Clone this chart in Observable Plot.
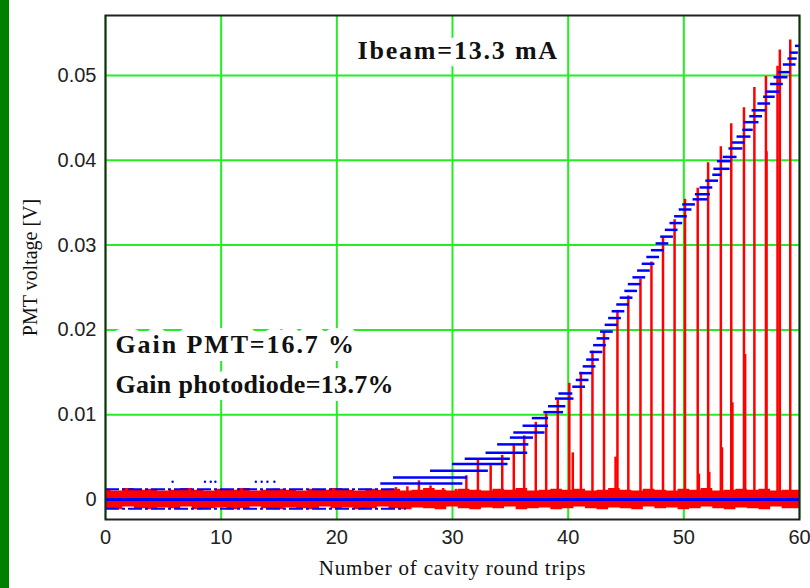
<!DOCTYPE html>
<html><head><meta charset="utf-8">
<script src="https://cdn.jsdelivr.net/npm/d3@7"></script>
<script src="https://cdn.jsdelivr.net/npm/@observablehq/plot@0.6"></script>
<style>
html,body{margin:0;padding:0;background:#fff;}
#wrap{position:relative;width:810px;height:588px;overflow:hidden;}
#strip{position:absolute;left:0;top:0;width:9px;height:588px;background:#008000;z-index:2;}
</style></head><body><div id="wrap"><div id="strip"></div></div>
<script>
// ---- tick labels ----
const xTicks = [0, 10, 20, 30, 40, 50, 60];
const yTicks = [0, 0.01, 0.02, 0.03, 0.04, 0.05];

// ---- red trace: spikes (round trip, peak voltage) ----
const spikeX = [25.1, 26.1, 27.1, 28.1, 29.2, 30.3, 31.2, 32.2, 33.3, 34.3, 35.3, 36.2, 37.2, 38.1, 39.1, 40.1, 40.4,
  41.1, 42.1, 43.1, 44.1, 44.26, 45.2, 46.25, 47.2, 48.2, 49.2, 50.1, 51.2, 51.3, 52.1, 52.2, 53.2, 53.3, 54.1, 54.2,
  55.2, 55.3, 56.1, 57.1, 57.15, 58.1, 58.3, 59.2];
const spikeV = [0.0014, 0.0015, 0.0022, 0.0016, 0.0013, 0.0012, 0.0028, 0.0046, 0.0040, 0.0052, 0.0064, 0.0075, 0.0091, 0.0101, 0.0117, 0.0137, 0.0055,
  0.0150, 0.0175, 0.0197, 0.0050, 0.0223, 0.0240, 0.0260, 0.0280, 0.0310, 0.0330, 0.0354, 0.0367, 0.0030, 0.0397, 0.0032, 0.0416, 0.0061, 0.0443, 0.0114,
  0.0462, 0.0171, 0.0486, 0.0499, 0.0410, 0.0511, 0.0530, 0.0542];

// ---- red trace: noise band envelope (per round trip) ----
const noiseX = d3.range(0, 61);
const noiseTop = [
  0.0012,0.0010,0.0013,0.0011,0.0012,0.0010,0.0011,0.0013,0.0011,0.0010,
  0.0012,0.0011,0.0013,0.0010,0.0011,0.0012,0.0011,0.0010,0.0012,0.0011,
  0.0013,0.0011,0.0010,0.0012,0.0011,0.0012,0.0010,0.0011,0.0013,0.0011,
  0.0010,0.0012,0.0011,0.0010,0.0012,0.0011,0.0013,0.0010,0.0011,0.0012,
  0.0011,0.0012,0.0010,0.0011,0.0013,0.0011,0.0010,0.0012,0.0011,0.0010,
  0.0012,0.0011,0.0013,0.0010,0.0011,0.0012,0.0011,0.0012,0.0010,0.0011,
  0.0011];
const noiseBottom = [
  -0.0011,-0.0012,-0.0009,-0.0011,-0.0012,-0.0010,-0.0011,-0.0009,-0.0012,-0.0011,
  -0.0010,-0.0012,-0.0011,-0.0009,-0.0011,-0.0012,-0.0010,-0.0011,-0.0012,-0.0009,
  -0.0011,-0.0010,-0.0012,-0.0011,-0.0009,-0.0011,-0.0012,-0.0010,-0.0011,-0.0012,
  -0.0009,-0.0011,-0.0012,-0.0010,-0.0011,-0.0009,-0.0012,-0.0011,-0.0010,-0.0012,
  -0.0011,-0.0009,-0.0011,-0.0012,-0.0010,-0.0011,-0.0012,-0.0009,-0.0011,-0.0010,
  -0.0012,-0.0011,-0.0009,-0.0011,-0.0012,-0.0010,-0.0011,-0.0012,-0.0009,-0.0011,
  -0.0011];

// ---- blue trace: staircase levels (start, end, level) ----
const stairStart = [23.8, 24.9, 28.1, 30.0, 31.1, 32.9, 33.9, 35.0, 35.3, 36.1, 36.9, 37.9, 38.3, 38.9, 39.2,
  40.4, 40.7, 41.0, 41.3, 41.6, 41.9, 42.2, 42.5, 42.8, 43.2, 43.5, 43.8, 44.2, 44.5, 44.9, 45.2, 45.6, 46.0, 46.4, 46.8, 47.2, 47.6, 48.0, 48.4, 48.8, 49.2, 49.6, 49.9,
  50.8, 51.0, 51.4, 51.9, 52.5, 52.6, 52.9, 53.4, 53.9, 54.2, 54.6, 55.1, 55.2, 55.7, 55.9, 56.4, 56.9, 57.1, 57.5, 57.8, 58.2, 58.6, 59.0, 59.2, 59.65];
const stairEnd = [30.9, 31.3, 33.1, 34.8, 35.0, 36.5, 36.6, 37.0, 38.0, 38.3, 38.3, 39.6, 39.8, 40.5, 40.4,
  41.5, 41.8, 42.1, 42.4, 42.7, 43.0, 43.3, 43.6, 43.9, 44.3, 44.6, 44.9, 45.3, 45.6, 46.0, 46.3, 46.7, 47.1, 47.5, 47.9, 48.3, 48.7, 49.1, 49.5, 49.9, 50.3, 50.7, 51.0,
  52.1, 52.3, 52.5, 53.0, 53.3, 54.0, 54.1, 54.6, 55.1, 55.3, 55.8, 56.0, 56.5, 56.8, 57.1, 57.5, 57.9, 58.3, 58.6, 59.0, 59.2, 59.7, 59.8, 59.9, 60.0];
const stairLevel = [0.0019, 0.0026, 0.0034, 0.0042, 0.0048, 0.0055, 0.0065, 0.0073, 0.0079, 0.0087, 0.0096, 0.0103, 0.0110, 0.0119, 0.0125,
  0.0133, 0.0141, 0.0149, 0.0157, 0.0165, 0.0174, 0.0182, 0.0190, 0.0198, 0.0206, 0.0214, 0.0222, 0.0230, 0.0238, 0.0246, 0.0254, 0.0262, 0.0270, 0.0278, 0.0286, 0.0294, 0.0302, 0.0310, 0.0318, 0.0326, 0.0334, 0.0342, 0.0348,
  0.0354, 0.0360, 0.0368, 0.0376, 0.0383, 0.0390, 0.0399, 0.0404, 0.0414, 0.0421, 0.0428, 0.0436, 0.0445, 0.0452, 0.0459, 0.0467, 0.0475, 0.0481, 0.0490, 0.0498, 0.0504, 0.0513, 0.0520, 0.0527, 0.0535];

// ---- blue trace: noise-level lines and scattered dots ----
const blueBandLevel = [0.0012, -0.0011];
const blueBandEnd = [25, 26];
const blueDotX = [5.8, 8.6, 9.1, 9.5, 13.0, 13.5, 14.0, 14.6];
const blueDotV = [0.0021, 0.0021, 0.0021, 0.0021, 0.0021, 0.0021, 0.0021, 0.0021];

// ---- tables for the library ----
const spikes = spikeX.map((x, i) => ({x, v: spikeV[i]}));
const noise = noiseX.map((x, i) => ({x, top: noiseTop[i], bottom: noiseBottom[i]}));
const stairs = stairStart.map((s, i) => ({s, e: stairEnd[i], v: stairLevel[i]}));
const bands = blueBandLevel.map((v, i) => ({v, s: 0, e: blueBandEnd[i]}));
const dots = blueDotX.map((x, i) => ({x, v: blueDotV[i]}));

const sans = "Liberation Sans, Arial, sans-serif";
const serif = "Liberation Serif, Times New Roman, serif";
const fmt = d => String(+d.toFixed(2));

const chart = Plot.plot({
  width: 810, height: 588,
  marginLeft: 105, marginRight: 11, marginTop: 15, marginBottom: 69,
  x: {domain: [0, 60]},
  y: {domain: [-0.00236, 0.05708]},
  style: {background: "white"},
  marks: [
    Plot.gridX(xTicks, {stroke: "#22ee22", strokeOpacity: 1, strokeWidth: 2}),
    Plot.gridY(yTicks, {stroke: "#22ee22", strokeOpacity: 1, strokeWidth: 2}),
    Plot.areaY(noise, {x: "x", y1: "bottom", y2: "top", curve: "step", fill: "#ff0000"}),
    Plot.ruleX(spikes, {x: "x", y1: 0, y2: "v", stroke: "#ff0000", strokeWidth: 2.5}),
    Plot.ruleY(bands, {y: "v", x1: "s", x2: "e", stroke: "#0000ff", strokeWidth: 2, strokeDasharray: "14,3,3,3"}),
    Plot.ruleY([0], {stroke: "#0000ff", strokeWidth: 3}),
    Plot.dot(dots, {x: "x", y: "v", r: 1.2, fill: "#0000ff", stroke: null}),
    Plot.ruleY(stairs, {y: "v", x1: "s", x2: "e", stroke: "#0000ff", strokeWidth: 2.5}),
    Plot.frame({stroke: "#222", strokeWidth: 2}),
    Plot.axisY(yTicks, {tickSize: 0, tickPadding: 9, fontSize: 20, fontFamily: sans, fill: "#222", tickFormat: fmt, label: null}),
    Plot.axisX(xTicks, {tickSize: 0, tickPadding: 10, fontSize: 20, fontFamily: sans, fill: "#222", tickFormat: fmt, label: null}),
    Plot.text(["PMT voltage [V]"], {text: d => d, frameAnchor: "left", dx: -75, rotate: -90, fontSize: 20, fontFamily: serif, fill: "#111", textAnchor: "middle", lineAnchor: "middle"}),
    Plot.text(["Number of cavity round trips"], {text: d => d, frameAnchor: "bottom", dy: 49, fontSize: 21, fontFamily: serif, fill: "#111", textAnchor: "middle", lineAnchor: "middle"}),
    Plot.text(["Ibeam=13.3 mA"], {text: d => d, frameAnchor: "top-left", dx: 252, dy: 25.5, textAnchor: "start", lineAnchor: "top", fontSize: 26, fontWeight: "bold", fontFamily: serif, fill: "#111", stroke: "white", strokeWidth: 16, paintOrder: "stroke"}),
    Plot.text(["Gain PMT=16.7 %"], {text: d => d, frameAnchor: "top-left", dx: 10, dy: 319.5, textAnchor: "start", lineAnchor: "top", fontSize: 26, fontWeight: "bold", fontFamily: serif, fill: "#111", stroke: "white", strokeWidth: 16, paintOrder: "stroke"}),
    Plot.text(["Gain photodiode=13.7%"], {text: d => d, frameAnchor: "top-left", dx: 10, dy: 359.5, textAnchor: "start", lineAnchor: "top", fontSize: 26, fontWeight: "bold", fontFamily: serif, fill: "#111", stroke: "white", strokeWidth: 16, paintOrder: "stroke"})
  ]
});
const spacing = {"Ibeam=13.3 mA": 1.8, "Gain PMT=16.7 %": 1.9, "Gain photodiode=13.7%": 0.3, "Number of cavity round trips": 0.8};
d3.select(chart).selectAll("text").each(function() {
  const t = this.textContent;
  if (spacing[t] != null) this.setAttribute("letter-spacing", spacing[t]);
});
document.getElementById("wrap").appendChild(chart);
</script>
</body></html>
